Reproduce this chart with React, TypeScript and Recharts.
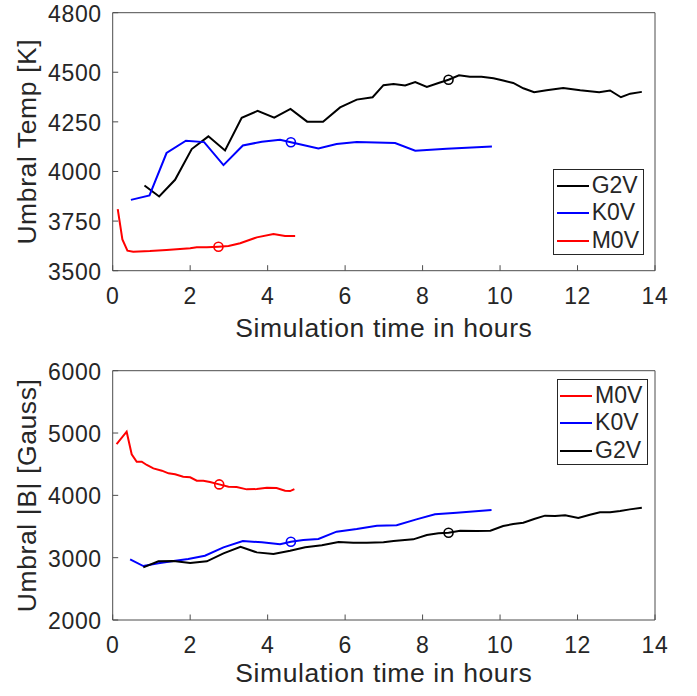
import { LineChart, Line, XAxis, YAxis, ReferenceDot, Legend } from "recharts";

// ---- data ----
const hourTicks = [0, 2, 4, 6, 8, 10, 12, 14];
const tempTicks = [3500, 3750, 4000, 4250, 4500, 4800];
const fieldTicks = [2000, 3000, 4000, 5000, 6000];

// umbral temperature [K]
const tempG2vHours = [0.82, 1.2, 1.61, 2.04, 2.47, 2.9, 3.33, 3.74, 4.17, 4.59, 5.02, 5.43, 5.87, 6.3, 6.71, 6.99, 7.25, 7.55, 7.81, 8.11, 8.41, 8.67, 8.94, 9.22, 9.52, 9.83, 10.08, 10.34, 10.6, 10.88, 11.2, 11.63, 12.07, 12.56, 12.84, 13.12, 13.36, 13.66];
const tempG2v = [3929, 3874, 3958, 4113, 4177, 4106, 4270, 4305, 4271, 4315, 4251, 4251, 4323, 4362, 4374, 4435, 4441, 4433, 4450, 4426, 4446, 4462, 4485, 4477, 4477, 4470, 4458, 4446, 4419, 4399, 4409, 4421, 4409, 4399, 4408, 4374, 4392, 4401];
const tempK0vHours = [0.47, 0.95, 1.39, 1.89, 2.36, 2.86, 3.36, 3.85, 4.32, 4.6, 5.31, 5.78, 6.3, 7.29, 7.81, 8.62, 9.79];
const tempK0v = [3857, 3879, 4093, 4155, 4148, 4032, 4131, 4150, 4160, 4147, 4116, 4138, 4148, 4143, 4105, 4115, 4126];
const tempM0vHours = [0.13, 0.25, 0.38, 0.53, 0.96, 1.39, 2.0, 2.17, 2.43, 2.73, 2.99, 3.29, 3.72, 4.15, 4.45, 4.71];
const tempM0v = [3810, 3658, 3601, 3596, 3599, 3604, 3613, 3618, 3618, 3621, 3624, 3638, 3668, 3685, 3675, 3675];

// umbral |B| [Gauss]
const fieldM0vHours = [0.1, 0.36, 0.49, 0.62, 0.75, 0.88, 1.05, 1.27, 1.44, 1.61, 1.82, 2.0, 2.17, 2.34, 2.51, 2.75, 2.99, 3.2, 3.46, 3.72, 3.98, 4.23, 4.45, 4.58, 4.69];
const fieldM0v = [4823, 5021, 4658, 4540, 4540, 4487, 4433, 4396, 4353, 4337, 4299, 4289, 4235, 4235, 4214, 4176, 4139, 4133, 4096, 4101, 4123, 4117, 4075, 4069, 4101];
const fieldK0vHours = [0.45, 0.79, 1.18, 1.57, 1.95, 2.38, 2.86, 3.36, 3.85, 4.32, 4.6, 4.92, 5.31, 5.78, 6.3, 6.82, 7.33, 7.84, 8.32, 8.88, 9.78];
const fieldK0v = [2973, 2866, 2909, 2946, 2978, 3032, 3166, 3267, 3246, 3214, 3256, 3283, 3299, 3417, 3460, 3513, 3519, 3615, 3695, 3722, 3765];
const fieldG2vHours = [0.79, 1.18, 1.57, 2.0, 2.43, 2.86, 3.3, 3.72, 4.15, 4.58, 4.97, 5.4, 5.83, 6.21, 6.56, 6.99, 7.25, 7.76, 8.11, 8.41, 8.67, 8.97, 9.4, 9.75, 10.08, 10.34, 10.6, 10.88, 11.16, 11.42, 11.68, 12.02, 12.32, 12.58, 12.84, 13.1, 13.35, 13.66];
const fieldG2v = [2845, 2941, 2946, 2914, 2941, 3069, 3176, 3085, 3059, 3112, 3166, 3198, 3251, 3240, 3240, 3246, 3267, 3294, 3364, 3390, 3401, 3433, 3428, 3433, 3508, 3540, 3561, 3620, 3674, 3668, 3679, 3636, 3690, 3727, 3727, 3749, 3775, 3802];

// circled sample on each curve (hour, value)
const tempMarkers = [
  { star: "G2V", hour: 8.67, value: 4462 },
  { star: "K0V", hour: 4.6, value: 4147 },
  { star: "M0V", hour: 2.73, value: 3621 },
];
const fieldMarkers = [
  { star: "M0V", hour: 2.75, value: 4176 },
  { star: "K0V", hour: 4.6, value: 3256 },
  { star: "G2V", hour: 8.67, value: 3401 },
];

const starColors: Record<string, string> = { G2V: "#000000", K0V: "#0000ff", M0V: "#ff0000" };

const zip = (hours: number[], vals: number[]) => hours.map((t, i) => ({ t, v: vals[i] }));

const tempSeries = [
  { star: "G2V", data: zip(tempG2vHours, tempG2v) },
  { star: "K0V", data: zip(tempK0vHours, tempK0v) },
  { star: "M0V", data: zip(tempM0vHours, tempM0v) },
];
const fieldSeries = [
  { star: "M0V", data: zip(fieldM0vHours, fieldM0v) },
  { star: "K0V", data: zip(fieldK0vHours, fieldK0v) },
  { star: "G2V", data: zip(fieldG2vHours, fieldG2v) },
];

// ---- styling ----
const FONT = "'Liberation Sans', Arial, Helvetica, sans-serif";
const TEXT = "#262626";
const FRAME = "#4d4d4d";
const TICK_LEN = 5.5;
const W = 697;
const PLOT_LEFT = 112.7;
const PLOT_RIGHT = 655;

function BottomTick({ x, y, payload }: any) {
  return (
    <g>
      <line x1={x} x2={x} y1={y} y2={y - TICK_LEN} stroke={FRAME} />
      <text x={x} y={y + 25} textAnchor="middle" dominantBaseline="central"
        fontFamily={FONT} fontSize={23} letterSpacing={0.6} fill={TEXT}>{payload.value}</text>
    </g>
  );
}
function LeftTick({ x, y, payload }: any) {
  return (
    <g>
      <line x1={x} x2={x + TICK_LEN} y1={y} y2={y} stroke={FRAME} />
      <text x={x - 11} y={y + 1} textAnchor="end" dominantBaseline="central"
        fontFamily={FONT} fontSize={23} letterSpacing={0.6} fill={TEXT}>{payload.value}</text>
    </g>
  );
}
function TopTick({ x, y }: any) {
  return <line x1={x} x2={x} y1={y} y2={y + TICK_LEN} stroke={FRAME} />;
}
function RightTick({ x, y }: any) {
  return <line x1={x} x2={x - TICK_LEN} y1={y} y2={y} stroke={FRAME} />;
}

function BoxLegend({ payload, order }: any) {
  const items = order
    .map((name: string) => (payload || []).find((p: any) => p.value === name))
    .filter(Boolean);
  return (
    <div style={{
      width: 91, height: 86, boxSizing: "border-box", border: `1px solid ${TEXT}`,
      background: "#fff", paddingTop: 1.5, paddingLeft: 2.4, fontFamily: FONT, fontSize: 23, color: TEXT,
    }}>
      {items.map((p: any) => (
        <div key={p.value} style={{ display: "flex", alignItems: "center", height: 27.5 }}>
          <svg width={32} height={4} style={{ display: "block" }}>
            <line x1={0} x2={32} y1={2} y2={2} stroke={p.color} strokeWidth={2} />
          </svg>
          <span style={{ marginLeft: 3, lineHeight: "27.5px" }}>{p.value}</span>
        </div>
      ))}
    </div>
  );
}

interface PanelProps {
  height: number;
  plotTop: number;
  plotBottom: number;
  domain: [number, number];
  yTicks: number[];
  yTitle: string;
  series: { star: string; data: { t: number; v: number }[] }[];
  markers: { star: string; hour: number; value: number }[];
  legendTop: number;
  legendLeft: number;
  xTitleOffset: number;
}

function Panel(p: PanelProps) {
  const topAxisH = 1;
  const midY = (p.plotTop + p.plotBottom) / 2;
  const order = p.series.map((s) => s.star);
  return (
    <LineChart width={W} height={p.height}
      margin={{ top: p.plotTop - topAxisH, right: W - PLOT_RIGHT - 1, left: 0, bottom: 0 }}>
      <XAxis type="number" dataKey="t" domain={[0, 14]} ticks={hourTicks} interval={0}
        allowDataOverflow height={p.height - p.plotBottom} tickSize={0} tickMargin={0}
        tick={<BottomTick />} axisLine={{ stroke: FRAME }}
        label={{
          content: () => (
            <text x={(PLOT_LEFT + PLOT_RIGHT) / 2} y={p.plotBottom + p.xTitleOffset} textAnchor="middle"
              dominantBaseline="central" fontFamily={FONT} fontSize={26.5} letterSpacing={0.6} fill={TEXT}>
              Simulation time in hours
            </text>
          ),
        }} />
      <XAxis xAxisId="top" orientation="top" type="number" dataKey="t" domain={[0, 14]} ticks={hourTicks}
        interval={0} height={topAxisH} tickSize={0} tickMargin={0} tick={<TopTick />} axisLine={{ stroke: FRAME }} />
      <YAxis type="number" domain={p.domain} ticks={p.yTicks} interval={0} allowDataOverflow
        width={PLOT_LEFT} tickSize={0} tickMargin={0} tick={<LeftTick />} axisLine={{ stroke: FRAME }}
        label={{
          content: () => (
            <text x={27} y={midY} transform={`rotate(-90 27 ${midY})`} textAnchor="middle"
              dominantBaseline="central" fontFamily={FONT} fontSize={26.5} letterSpacing={0.6} fill={TEXT}>
              {p.yTitle}
            </text>
          ),
        }} />
      <YAxis yAxisId="right" orientation="right" type="number" domain={p.domain} ticks={p.yTicks}
        interval={0} width={1} tickSize={0} tickMargin={0} tick={<RightTick />} axisLine={{ stroke: FRAME }} />
      {p.series.map((s) => (
        <Line key={s.star} name={s.star} data={s.data} dataKey="v" type="linear"
          stroke={starColors[s.star]} strokeWidth={2} dot={false} activeDot={false}
          legendType="line" isAnimationActive={false} />
      ))}
      {p.markers.map((m) => (
        <ReferenceDot key={m.star} x={m.hour} y={m.value} r={4.5} fill="none"
          stroke={starColors[m.star]} strokeWidth={1.6} />
      ))}
      <Legend layout="vertical" align="center" verticalAlign="middle" content={<BoxLegend order={order} />}
        wrapperStyle={{ left: p.legendLeft, top: p.legendTop, width: 91 }} />
    </LineChart>
  );
}

export default function App() {
  return (
    <div style={{ position: "absolute", left: 0, top: 0, width: W, height: 696, background: "#fff" }}>
      <Panel height={345} plotTop={12.7} plotBottom={270.7} domain={[3500, 4800]} yTicks={tempTicks}
        yTitle="Umbral Temp [K]" series={tempSeries} markers={tempMarkers}
        legendLeft={553.3} legendTop={169.3} xTitleOffset={57} />
      <Panel height={351} plotTop={25.7} plotBottom={275} domain={[2000, 6000]} yTicks={fieldTicks}
        yTitle="Umbral |B| [Gauss]" series={fieldSeries} markers={fieldMarkers}
        legendLeft={556.7} legendTop={34.3} xTitleOffset={53} />
    </div>
  );
}
